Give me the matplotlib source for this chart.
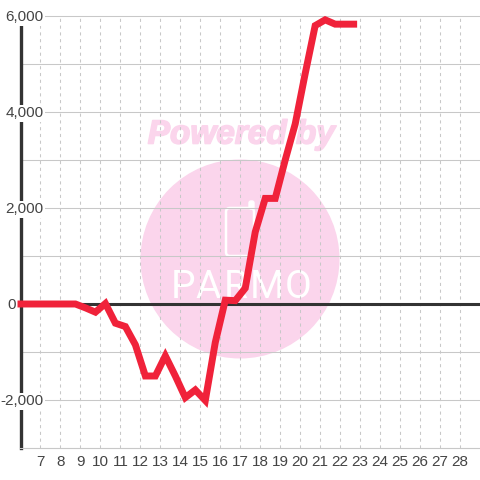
import matplotlib
matplotlib.use("Agg")
import matplotlib.pyplot as plt
from matplotlib.patches import Circle, FancyBboxPatch
from matplotlib import patheffects
from matplotlib.transforms import blended_transform_factory, ScaledTranslation

plt.rcParams["font.family"] = ["Liberation Sans", "DejaVu Sans"]

days = [5.85, 6.25, 6.75, 7.25, 7.75, 8.25, 8.75, 9.25, 9.75, 10.25, 10.75, 11.25, 11.75,
        12.25, 12.75, 13.25, 13.75, 14.25, 14.75, 15.25, 15.75, 16.25, 16.75, 17.25,
        17.75, 18.25, 18.75, 19.25, 19.75, 20.25, 20.75, 21.25, 21.75, 22.25, 22.85]
values = [0, 0, 0, 0, 0, 0, 0, -80, -170, 10, -400, -470, -850,
          -1500, -1500, -1080, -1500, -1950, -1790, -2010, -800, 80, 70, 330,
          1500, 2200, 2200, 3000, 3750, 4800, 5800, 5920, 5830, 5830, 5830]

x_ticks = list(range(7, 29))
y_major = [-3000, -2000, -1000, 0, 1000, 2000, 3000, 4000, 5000, 6000]
y_labels = {6000: "6,000", 4000: "4,000", 2000: "2,000", 0: "0", -2000: "-2,000"}
y_label_right = {6000: 43.5, 4000: 43.5, 2000: 43.5, 0: 16, -2000: 43.5}

fig = plt.figure(figsize=(4.8, 4.8), dpi=100)

# watermark sits under the plot, in pixel coordinates
bg = fig.add_axes([0, 0, 1, 1], zorder=0)
bg.set_xlim(0, 480)
bg.set_ylim(480, 0)
bg.axis("off")
pink = "#fbd5ec"
bg.add_patch(Circle((240, 259), 99.5, color=pink, lw=0))
t = bg.text(241.5, 135, "Powered by", color=pink, fontsize=24, fontweight="bold",
            fontstyle="italic", ha="center", va="center")
t.set_path_effects([patheffects.withStroke(linewidth=1.2, foreground=pink)])
bg.add_patch(FancyBboxPatch((226, 208), 28, 48, boxstyle="round,pad=0,rounding_size=4",
                            fc="none", ec="white", lw=1.8))
bg.add_patch(FancyBboxPatch((249, 201), 5, 8, boxstyle="round,pad=0,rounding_size=2",
                            fc="white", ec="white", lw=1))
for px, letter in zip([183, 208, 236, 267, 298], "PARMO"):
    bg.text(px, 288, letter, color="white", fontsize=28, family="Roboto",
            ha="center", va="center")

ax = fig.add_axes([20.5 / 480, 32 / 480, 459.5 / 480, 432 / 480], zorder=1)
ax.patch.set_visible(False)
ax.set_xlim(6, 29)
ax.set_ylim(-3000, 6000)
for side in ["top", "right"]:
    ax.spines[side].set_visible(False)
ax.spines["left"].set_linewidth(2.4)
ax.spines["left"].set_color("#333333")
ax.spines["bottom"].set_linewidth(0.75)
ax.spines["bottom"].set_color("#c8c8c8")

ax.set_xticks(x_ticks)
ax.set_yticks(y_major)
ax.set_yticklabels([])
ax.tick_params(axis="both", length=0)
ax.tick_params(axis="x", labelsize=11, labelcolor="#444444", pad=5)
ax.grid(axis="y", color="#c8c8c8", lw=0.75, clip_on=False)
ax.grid(axis="x", color="#c8c8c8", lw=0.75, linestyle=(0, (3, 3.5)))
ax.set_axisbelow(True)
ax.axhline(0, color="#333333", lw=2.2, zorder=2)

trans = blended_transform_factory(fig.transFigure, ax.transData)
nudge = ScaledTranslation(0, -1.2 / 100, fig.dpi_scale_trans)
for val, label in y_labels.items():
    ax.text(y_label_right[val] / 480, val, label, transform=trans + nudge, ha="right", va="center",
            fontsize=11, color="#444444", zorder=4, clip_on=False,
            bbox=dict(fc="white", ec="none", pad=1.2))

ax.plot(days, values, color="#f0223a", lw=5, solid_capstyle="butt",
        solid_joinstyle="miter", clip_on=False, zorder=5)

fig.savefig("out.png", dpi=100)
